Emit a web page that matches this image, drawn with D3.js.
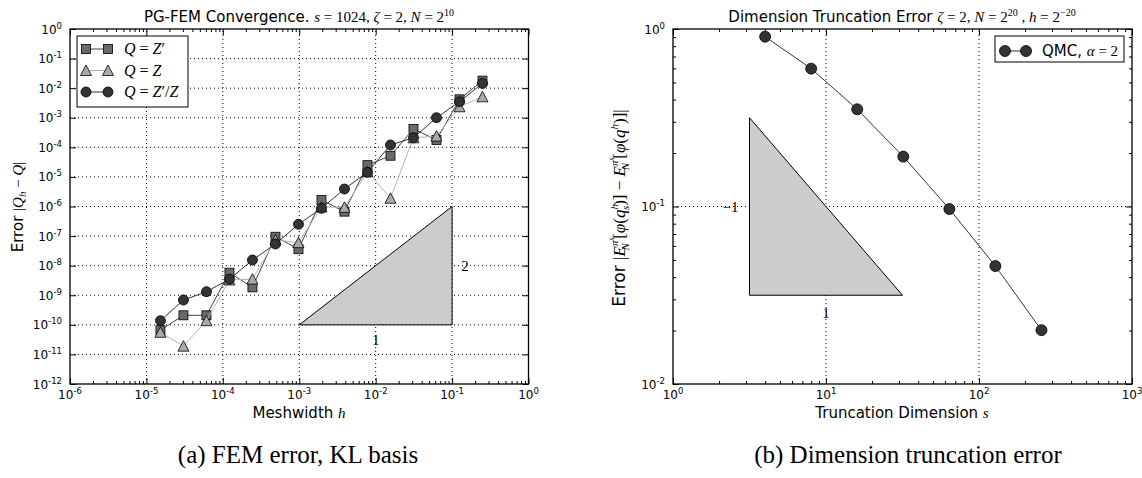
<!DOCTYPE html>
<html>
<head>
<meta charset="utf-8">
<script src="https://cdn.jsdelivr.net/npm/d3@7"></script>
<style>
  html, body { margin: 0; padding: 0; background: #fff; }
  svg { display: block; }
</style>
</head>
<body>
<svg id="fig" width="1142" height="478"></svg>
<script>
// ---- data: (a) PG-FEM convergence ----
const meshwidths = [1.526e-5, 3.052e-5, 6.104e-5, 1.221e-4, 2.441e-4, 4.883e-4, 9.766e-4,
                    1.953e-3, 3.906e-3, 7.813e-3, 1.563e-2, 3.125e-2, 6.25e-2, 0.125, 0.25];
const errZprime = [6.6e-11, 2.1e-10, 2.1e-10, 5.8e-9, 1.85e-9, 9.5e-8, 3.6e-8,
                   1.66e-6, 6.7e-7, 2.5e-5, 5.2e-5, 4.2e-4, 1.78e-4, 4.2e-3, 1.8e-2];
const errZ      = [5.6e-11, 1.9e-11, 1.38e-10, 3.3e-9, 3.5e-9, 7.4e-8, 6.0e-8,
                   9.6e-7, 9.4e-7, 1.5e-5, 1.9e-6, 2.1e-4, 2.4e-4, 2.35e-3, 5.1e-3];
const errRatio  = [1.38e-10, 6.9e-10, 1.32e-9, 3.5e-9, 1.55e-8, 5.4e-8, 2.5e-7,
                   8.7e-7, 3.9e-6, 1.44e-5, 1.2e-4, 2.1e-4, 1.0e-3, 3.5e-3, 1.45e-2];
// slope-2 reference triangle (h, error)
const femSlope = [[1e-3, 1e-10], [1e-1, 1e-10], [1e-1, 1e-6]];

// ---- data: (b) dimension truncation ----
const truncDims = [4, 8, 16, 32, 64, 128, 256];
const truncErr  = [0.905, 0.598, 0.353, 0.191, 0.0968, 0.0462, 0.0201];
// slope -1 reference triangle (s, error)
const truncSlope = [[3.1623, 0.031623], [31.623, 0.031623], [3.1623, 0.31623]];

// tick exponents
const femXExp = [-6, -5, -4, -3, -2, -1, 0];
const femYExp = [0, -1, -2, -3, -4, -5, -6, -7, -8, -9, -10, -11, -12];
const truncXExp = [0, 1, 2, 3];
const truncYExp = [0, -1, -2];

const SANS = "'DejaVu Sans', sans-serif";
const SERIF = "'Liberation Serif', 'DejaVu Serif', serif";

const svg = d3.select("#fig");

// rich text: segments of {t, f:'sans'|'serif', i:italic, s:size, v:vertical offset, dx}
function rich(text, segs, base) {
  let cur = 0;
  segs.forEach(s => {
    const off = s.v || 0;
    const ts = text.append("tspan").text(s.t)
      .attr("font-family", s.f === "sans" ? SANS : SERIF)
      .attr("font-style", s.i ? "italic" : "normal")
      .attr("font-size", s.s || base);
    if (off !== cur) { ts.attr("dy", off - cur); cur = off; }
    if (s.dx) ts.attr("dx", s.dx);
  });
  return text;
}

function powLabel(text, e) {
  text.append("tspan").text("10");
  text.append("tspan").attr("dy", -5).attr("font-size", 8.5).text(String(e));
}

function minorTicks(domain) {
  const lo = Math.floor(Math.log10(domain[0]) + 1e-9), hi = Math.ceil(Math.log10(domain[1]) - 1e-9);
  const out = [];
  for (let d = lo; d < hi; d++) for (let m = 2; m <= 9; m++) out.push(m * Math.pow(10, d));
  return out.filter(v => v > domain[0] && v < domain[1]);
}

function panel(cfg) {
  const g = svg.append("g");
  const x = cfg.x, y = cfg.y;
  const [x0, x1] = x.range(), [y0, y1] = y.range(); // y0 bottom, y1 top
  const xMaj = cfg.xExp.map(e => Math.pow(10, e));
  const yMaj = cfg.yExp.map(e => Math.pow(10, e));

  // grid
  const grid = g.append("g").attr("stroke", "#000").attr("stroke-width", 1)
    .attr("stroke-dasharray", "1,3").attr("fill", "none");
  grid.selectAll("line.gx").data(cfg.gridX).join("line")
    .attr("x1", d => x(d)).attr("x2", d => x(d)).attr("y1", y0).attr("y2", y1);
  grid.selectAll("line.gy").data(cfg.gridY).join("line")
    .attr("x1", x0).attr("x2", x1).attr("y1", d => y(d)).attr("y2", d => y(d));

  // ticks on all four sides, pointing inward
  const strip = a => a.call(s => s.select(".domain").remove())
                      .call(s => s.selectAll("line").attr("stroke", "#000"));
  const axes = g.append("g");
  axes.append("g").attr("transform", `translate(0,${y0})`)
    .call(d3.axisBottom(x).tickValues(xMaj).tickSize(-6).tickFormat("")).call(strip);
  axes.append("g").attr("transform", `translate(0,${y1})`)
    .call(d3.axisTop(x).tickValues(xMaj).tickSize(-6).tickFormat("")).call(strip);
  axes.append("g").attr("transform", `translate(${x0},0)`)
    .call(d3.axisLeft(y).tickValues(yMaj).tickSize(-6).tickFormat("")).call(strip);
  axes.append("g").attr("transform", `translate(${x1},0)`)
    .call(d3.axisRight(y).tickValues(yMaj).tickSize(-6).tickFormat("")).call(strip);
  const xMin = minorTicks(x.domain());
  axes.append("g").attr("transform", `translate(0,${y0})`)
    .call(d3.axisBottom(x).tickValues(xMin).tickSize(-3).tickFormat("")).call(strip);
  axes.append("g").attr("transform", `translate(0,${y1})`)
    .call(d3.axisTop(x).tickValues(xMin).tickSize(-3).tickFormat("")).call(strip);
  if (cfg.yMinor) {
    const yMin = minorTicks(y.domain());
    axes.append("g").attr("transform", `translate(${x0},0)`)
      .call(d3.axisLeft(y).tickValues(yMin).tickSize(-3).tickFormat("")).call(strip);
    axes.append("g").attr("transform", `translate(${x1},0)`)
      .call(d3.axisRight(y).tickValues(yMin).tickSize(-3).tickFormat("")).call(strip);
  }

  // tick labels
  const lab = g.append("g").attr("font-family", SANS).attr("font-size", 12).attr("fill", "#000");
  cfg.xExp.forEach(e => {
    const t = lab.append("text").attr("x", x(Math.pow(10, e))).attr("y", y0 + 15)
      .attr("text-anchor", "middle");
    powLabel(t, e);
  });
  cfg.yExp.forEach(e => {
    const t = lab.append("text").attr("x", x0 - 8).attr("y", y(Math.pow(10, e)) + 4.5)
      .attr("text-anchor", "end");
    powLabel(t, e);
  });

  return g;
}

// ======================= (a) =======================
const xL = d3.scaleLog().domain([1e-6, 1]).range([70, 528.5]);
const yL = d3.scaleLog().domain([1e-12, 1]).range([384, 29]);

const gA = panel({
  x: xL, y: yL, xExp: femXExp, yExp: femYExp, yMinor: false,
  gridX: [1e-5, 1e-4, 1e-3, 1e-2, 1e-1],
  gridY: femYExp.slice(1, -1).map(e => Math.pow(10, e))
});

// slope triangle
gA.append("path")
  .attr("d", d3.line().x(d => xL(d[0])).y(d => yL(d[1]))(femSlope) + "Z")
  .attr("fill", "#cccccc").attr("stroke", "#000").attr("stroke-width", 1);
gA.append("text").attr("x", xL(1e-1) + 13).attr("y", yL(1e-8) + 5)
  .attr("font-family", SERIF).attr("font-size", 15).attr("text-anchor", "middle").text("2");
gA.append("text").attr("x", xL(1e-2)).attr("y", yL(1e-10) + 20)
  .attr("font-family", SERIF).attr("font-size", 15).attr("text-anchor", "middle").text("1");

const markers = {
  square: (g, cx, cy, fill) => g.append("rect").attr("x", cx - 4.5).attr("y", cy - 4.5)
    .attr("width", 9).attr("height", 9).attr("fill", fill).attr("stroke", "#000").attr("stroke-width", 0.8),
  triangle: (g, cx, cy, fill) => g.append("path")
    .attr("d", `M${cx},${cy - 5.5}L${cx - 5.5},${cy + 5}L${cx + 5.5},${cy + 5}Z`)
    .attr("fill", fill).attr("stroke", "#000").attr("stroke-width", 0.8),
  circle: (g, cx, cy, fill, r) => g.append("circle").attr("cx", cx).attr("cy", cy).attr("r", r || 5)
    .attr("fill", fill).attr("stroke", "#000").attr("stroke-width", 0.8)
};

const femSeries = [
  { vals: errZprime, marker: "square",   fill: "#6a6a6a", line: "#444444",
    label: [{ t: "Q", i: 1 }, { t: " = ", }, { t: "Z", i: 1 }, { t: "′" }] },
  { vals: errZ,      marker: "triangle", fill: "#aaaaaa", line: "#b4b4b4",
    label: [{ t: "Q", i: 1 }, { t: " = " }, { t: "Z", i: 1 }] },
  { vals: errRatio,  marker: "circle",   fill: "#333333", line: "#333333",
    label: [{ t: "Q", i: 1 }, { t: " = " }, { t: "Z", i: 1 }, { t: "′/" }, { t: "Z", i: 1 }] }
];

femSeries.forEach(s => {
  const pts = meshwidths.map((h, i) => [h, s.vals[i]]);
  const sg = gA.append("g");
  sg.append("path").attr("d", d3.line().x(d => xL(d[0])).y(d => yL(d[1]))(pts))
    .attr("fill", "none").attr("stroke", s.line).attr("stroke-width", 1);
  pts.forEach(p => markers[s.marker](sg, xL(p[0]), yL(p[1]), s.fill));
});

// legend (a)
const legA = gA.append("g");
legA.append("rect").attr("x", 77).attr("y", 36).attr("width", 111).attr("height", 71)
  .attr("fill", "#fff").attr("stroke", "#000").attr("stroke-width", 1);
femSeries.forEach((s, i) => {
  const ly = 49 + i * 21.5;
  legA.append("line").attr("x1", 86).attr("x2", 108).attr("y1", ly).attr("y2", ly)
    .attr("stroke", s.line).attr("stroke-width", 1);
  markers[s.marker](legA, 86, ly, s.fill);
  markers[s.marker](legA, 108, ly, s.fill);
  rich(legA.append("text").attr("x", 124).attr("y", ly + 5), s.label, 16);
});

// title / axis labels (a)
rich(svg.append("text").attr("x", 299).attr("y", 22).attr("text-anchor", "middle"), [
  { t: "PG-FEM Convergence. ", f: "sans" },
  { t: "s", i: 1 }, { t: " = 1024, " }, { t: "ζ", i: 1 }, { t: " = 2, " },
  { t: "N", i: 1 }, { t: " = 2" }, { t: "10", s: 10, v: -6 }
], 15);
rich(svg.append("text").attr("x", 299).attr("y", 418).attr("text-anchor", "middle"), [
  { t: "Meshwidth ", f: "sans" }, { t: "h", i: 1 }
], 15);
rich(svg.append("text").attr("transform", "translate(23,207) rotate(-90)").attr("text-anchor", "middle"), [
  { t: "Error ", f: "sans" }, { t: "|" }, { t: "Q", i: 1 }, { t: "h", i: 1, s: 11, v: 3 },
  { t: " − " }, { t: "Q", i: 1 }, { t: "|" }
], 15);

// ======================= (b) =======================
const xR = d3.scaleLog().domain([1, 1000]).range([673, 1132]);
const yR = d3.scaleLog().domain([0.01, 1]).range([384, 29]);

const gB = panel({
  x: xR, y: yR, xExp: truncXExp, yExp: truncYExp, yMinor: true,
  gridX: [10, 100], gridY: [0.1]
});

gB.append("path")
  .attr("d", d3.line().x(d => xR(d[0])).y(d => yR(d[1]))(truncSlope) + "Z")
  .attr("fill", "#cccccc").attr("stroke", "#000").attr("stroke-width", 1);
gB.append("text").attr("x", xR(10)).attr("y", yR(0.031623) + 23)
  .attr("font-family", SERIF).attr("font-size", 15).attr("text-anchor", "middle").text("1");
gB.append("text").attr("x", xR(3.1623) - 19).attr("y", yR(0.1) + 5)
  .attr("font-family", SERIF).attr("font-size", 15).attr("text-anchor", "middle").text("−1");

const qmcPts = truncDims.map((s, i) => [s, truncErr[i]]);
gB.append("path").attr("d", d3.line().x(d => xR(d[0])).y(d => yR(d[1]))(qmcPts))
  .attr("fill", "none").attr("stroke", "#333").attr("stroke-width", 1);
qmcPts.forEach(p => markers.circle(gB, xR(p[0]), yR(p[1]), "#333333", 5.5));

// legend (b)
const legB = gB.append("g");
legB.append("rect").attr("x", 995).attr("y", 36).attr("width", 129).attr("height", 26)
  .attr("fill", "#fff").attr("stroke", "#000").attr("stroke-width", 1);
legB.append("line").attr("x1", 1005).attr("x2", 1026).attr("y1", 51).attr("y2", 51)
  .attr("stroke", "#333").attr("stroke-width", 1);
markers.circle(legB, 1005, 51, "#333333", 5.5);
markers.circle(legB, 1026, 51, "#333333", 5.5);
rich(legB.append("text").attr("x", 1042).attr("y", 56), [
  { t: "QMC, ", f: "sans" }, { t: "α", i: 1 }, { t: " = 2" }
], 15);

// title / axis labels (b)
rich(svg.append("text").attr("x", 902).attr("y", 22).attr("text-anchor", "middle"), [
  { t: "Dimension Truncation Error ", f: "sans" },
  { t: "ζ", i: 1 }, { t: " = 2, " }, { t: "N", i: 1 }, { t: " = 2" }, { t: "20", s: 10, v: -6 },
  { t: " , " }, { t: "h", i: 1 }, { t: " = 2" }, { t: "−20", s: 10, v: -6 }
], 15);
rich(svg.append("text").attr("x", 902).attr("y", 418).attr("text-anchor", "middle"), [
  { t: "Truncation Dimension ", f: "sans" }, { t: "s", i: 1 }
], 15);
rich(svg.append("text").attr("transform", "translate(625,208) rotate(-90)").attr("text-anchor", "middle"), [
  { t: "Error ", f: "sans" }, { t: "|" }, { t: "E", i: 1 },
  { t: "π", i: 1, s: 11, v: -7 }, { t: "s", i: 1, s: 8, v: -11 }, { t: "N", i: 1, s: 11, v: 4, dx: -13 },
  { t: " [" }, { t: "φ", i: 1 }, { t: "(" }, { t: "q", i: 1 },
  { t: "h", i: 1, s: 11, v: -7 }, { t: "s", i: 1, s: 11, v: 4, dx: -6 },
  { t: ")]" }, { t: " − " }, { t: "E", i: 1 },
  { t: "π", i: 1, s: 11, v: -7 }, { t: "s", i: 1, s: 8, v: -11 }, { t: "N", i: 1, s: 11, v: 4, dx: -13 },
  { t: " [" }, { t: "φ", i: 1 }, { t: "(" }, { t: "q", i: 1 }, { t: "h", i: 1, s: 11, v: -7 },
  { t: ")]|" }
], 17);

// captions
svg.append("text").attr("x", 298).attr("y", 463).attr("text-anchor", "middle")
  .attr("font-family", SERIF).attr("font-size", 25).text("(a) FEM error, KL basis");
svg.append("text").attr("x", 908).attr("y", 463).attr("text-anchor", "middle")
  .attr("font-family", SERIF).attr("font-size", 25).text("(b) Dimension truncation error");

// plot frames on top
[[xL, yL], [xR, yR]].forEach(([x, y]) => {
  svg.append("rect").attr("x", x.range()[0]).attr("y", y.range()[1])
    .attr("width", x.range()[1] - x.range()[0]).attr("height", y.range()[0] - y.range()[1])
    .attr("fill", "none").attr("stroke", "#000").attr("stroke-width", 1.3);
});
</script>
</body>
</html>
